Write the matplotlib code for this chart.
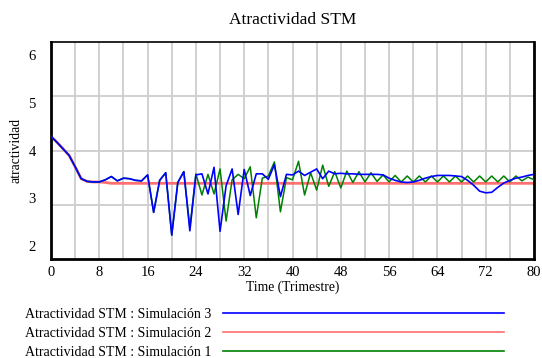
import matplotlib
matplotlib.use("Agg")
import matplotlib.pyplot as plt
import matplotlib.transforms as mtransforms
import numpy as np

plt.rcParams['font.family'] = ['Liberation Serif', 'DejaVu Serif']

time = list(range(0, 81))

sim3 = [4.26, 4.15, 4.03, 3.91, 3.70, 3.48, 3.43, 3.42, 3.42, 3.46,
        3.52, 3.44, 3.49, 3.48, 3.45, 3.44, 3.55, 2.86, 3.45, 3.59,
        2.44, 3.41, 3.61, 2.52, 3.55, 3.57, 3.20, 3.69, 2.51, 3.35,
        3.66, 2.82, 3.65, 3.17, 3.57, 3.57, 3.47, 3.74, 3.15, 3.56,
        3.55, 3.62, 3.54, 3.60, 3.66, 3.48, 3.62, 3.57, 3.58, 3.57,
        3.57, 3.56, 3.56, 3.56, 3.56, 3.55, 3.49, 3.45, 3.42, 3.41,
        3.42, 3.45, 3.49, 3.52, 3.54, 3.54, 3.54, 3.53, 3.52, 3.45,
        3.36, 3.25, 3.22, 3.23, 3.32, 3.40, 3.45, 3.49, 3.51, 3.54,
        3.56]

sim2 = [4.26, 4.15, 4.03, 3.91, 3.70, 3.48, 3.43, 3.42, 3.42, 3.41] + [3.395] * 71

sim1 = [4.26, 4.15, 4.03, 3.91, 3.70, 3.48, 3.43, 3.42, 3.42, 3.46,
        3.52, 3.44, 3.49, 3.48, 3.45, 3.44, 3.55, 2.86, 3.45, 3.59,
        2.44, 3.41, 3.61, 2.58, 3.57, 3.18, 3.56, 3.20, 3.66, 2.70,
        3.46, 3.56, 3.48, 3.70, 2.76, 3.49, 3.53, 3.79, 2.87, 3.50,
        3.46, 3.80, 3.18, 3.59, 3.27, 3.73, 3.34, 3.61, 3.31, 3.62,
        3.41, 3.61, 3.42, 3.59, 3.43, 3.55, 3.42, 3.54, 3.42, 3.53,
        3.42, 3.53, 3.42, 3.53, 3.42, 3.53, 3.42, 3.53, 3.42, 3.53,
        3.42, 3.53, 3.42, 3.53, 3.42, 3.53, 3.42, 3.53, 3.44, 3.51,
        3.46]

labels = ["Atractividad STM : Simulación 3",
          "Atractividad STM : Simulación 2",
          "Atractividad STM : Simulación 1"]
xticks = list(range(0, 81, 8))
yticks = [2, 3, 4, 5, 6]

W, H = 542, 358
fig = plt.figure(figsize=(W / 100, H / 100), dpi=100)
ax = fig.add_axes([51 / W, 1 - 259 / H, (534 - 51) / W, (259 - 42) / H])

ax.set_xlim(0, 80)
ax.set_ylim(2, 6)

# grid
for x in range(4, 80, 4):
    ax.axvline(x, color='#d0d0d0', lw=1.4, zorder=0)
for y in [3, 4, 5]:
    ax.axhline(y, color='#d0d0d0', lw=1.4, zorder=0)

l2, = ax.plot(time, sim2, color='#ff7070', lw=2.0, zorder=2)
l1, = ax.plot(time, sim1, color='#008000', lw=1.1, zorder=3)
l3, = ax.plot(time, sim3, color='#0000ff', lw=1.2, zorder=4)

for side, lw in [('left', 2.0), ('bottom', 2.0), ('right', 2.0), ('top', 1.2)]:
    ax.spines[side].set_linewidth(lw)
    ax.spines[side].set_color('black')

ax.set_xticks(xticks)
ax.set_xticklabels([str(v) for v in xticks], fontsize=10.5)
ax.set_yticks(yticks)
ax.set_yticklabels([str(v) for v in yticks], fontsize=10.5)
ax.tick_params(length=0, pad=5)
ax.tick_params(axis='y', pad=11)

for lab, v in zip(ax.get_yticklabels(), yticks):
    off = (v - 4) * -4.75 / 72.0
    lab.set_transform(lab.get_transform() + mtransforms.ScaledTranslation(0, off, fig.dpi_scale_trans))

ax.set_title("Atractividad STM", fontsize=12.5, pad=13)
ax.set_xlabel("Time (Trimestre)", fontsize=9.8, labelpad=1)
ax.set_ylabel("atractividad", fontsize=9.8, labelpad=4)

leg = fig.legend([l3, l2, l1], labels, loc='upper left',
                 bbox_to_anchor=(25 / W, 1 - 308 / H), frameon=False,
                 markerfirst=False, handlelength=20.2, handletextpad=0.85,
                 labelspacing=0.42, borderpad=0, borderaxespad=0,
                 fontsize=10)
for h in leg.get_lines():
    h.set_linewidth(1.2)

fig.savefig("out.png", dpi=100)
